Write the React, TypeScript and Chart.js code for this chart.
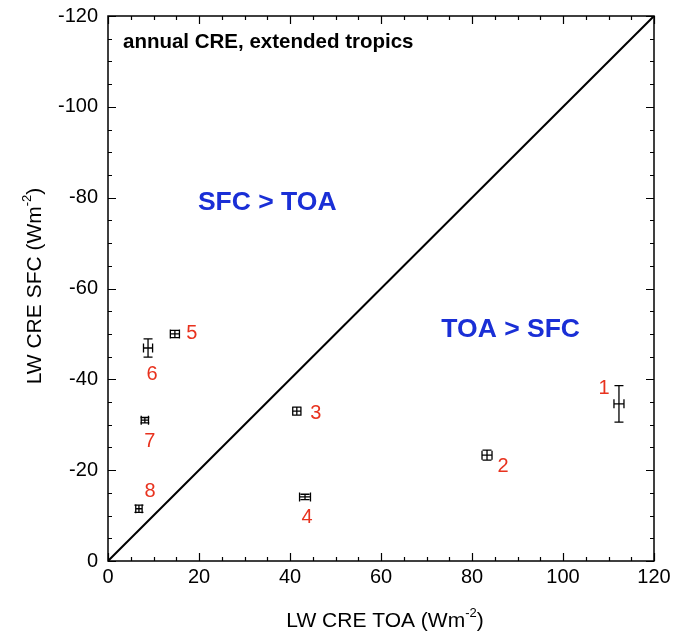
import React, { useEffect, useRef } from "react";
import { Chart, registerables } from "chart.js";
Chart.register(...registerables);

const pointIds = ["1", "2", "3", "4", "5", "6", "7", "8"];
const toaValues = [112.3, 83.3, 41.5, 43.3, 14.7, 8.8, 8.1, 6.8];
const sfcValues = [-34.6, -23.3, -33.0, -14.1, -50.0, -46.9, -31.0, -11.5];
const toaErrors = [1.1, 1.1, 0.9, 1.2, 1.0, 1.0, 0.8, 0.7];
const sfcErrors = [4.0, 1.1, 0.9, 0.6, 0.8, 2.0, 0.6, 0.8];
const diagonalLine = [
  { x: 0, y: 0 },
  { x: 120, y: -120 },
];
const labelOffsets = [
  [-15, -15],
  [16, 11],
  [19, 2],
  [2, 21],
  [17, 0],
  [4, 26],
  [5, 21],
  [11, -17],
];

const FONT = "'Liberation Sans', Arial, Helvetica, sans-serif";
const RED = "#e8321e";
const BLUE = "#1a2fd6";

const decorPlugin = {
  id: "decor",
  afterDatasetsDraw(chart: any) {
    const ctx = chart.ctx;
    const xs = chart.scales.x;
    const ys = chart.scales.y;
    const ca = chart.chartArea;
    ctx.save();
    // frame
    ctx.strokeStyle = "#000";
    ctx.lineWidth = 1.5;
    ctx.strokeRect(ca.left, ca.top, ca.right - ca.left, ca.bottom - ca.top);
    // ticks inward, all four sides
    ctx.lineWidth = 1.2;
    for (let v = 0; v <= 120; v += 5) {
      const len = v % 20 === 0 ? 8 : 4;
      const px = Math.round(xs.getPixelForValue(v)) + 0.5;
      ctx.beginPath();
      ctx.moveTo(px, ca.bottom);
      ctx.lineTo(px, ca.bottom - len);
      ctx.moveTo(px, ca.top);
      ctx.lineTo(px, ca.top + len);
      ctx.stroke();
      const py = Math.round(ys.getPixelForValue(-v)) + 0.5;
      ctx.beginPath();
      ctx.moveTo(ca.left, py);
      ctx.lineTo(ca.left + len, py);
      ctx.moveTo(ca.right, py);
      ctx.lineTo(ca.right - len, py);
      ctx.stroke();
    }
    // error bars
    ctx.lineWidth = 1.3;
    const cap = 4.5;
    for (let i = 0; i < toaValues.length; i++) {
      const cx = xs.getPixelForValue(toaValues[i]);
      const cy = ys.getPixelForValue(sfcValues[i]);
      const x0 = xs.getPixelForValue(toaValues[i] - toaErrors[i]);
      const x1 = xs.getPixelForValue(toaValues[i] + toaErrors[i]);
      const y0 = ys.getPixelForValue(sfcValues[i] - sfcErrors[i]);
      const y1 = ys.getPixelForValue(sfcValues[i] + sfcErrors[i]);
      ctx.beginPath();
      ctx.moveTo(x0, cy);
      ctx.lineTo(x1, cy);
      ctx.moveTo(x0, cy - cap);
      ctx.lineTo(x0, cy + cap);
      ctx.moveTo(x1, cy - cap);
      ctx.lineTo(x1, cy + cap);
      ctx.moveTo(cx, y0);
      ctx.lineTo(cx, y1);
      ctx.moveTo(cx - cap, y0);
      ctx.lineTo(cx + cap, y0);
      ctx.moveTo(cx - cap, y1);
      ctx.lineTo(cx + cap, y1);
      ctx.stroke();
      // label
      ctx.fillStyle = RED;
      ctx.font = `20px ${FONT}`;
      ctx.textAlign = "center";
      ctx.textBaseline = "middle";
      ctx.fillText(pointIds[i], cx + labelOffsets[i][0], cy + labelOffsets[i][1]);
    }
    // annotations
    ctx.fillStyle = "#000";
    ctx.font = `bold 20.5px ${FONT}`;
    ctx.textAlign = "left";
    ctx.textBaseline = "middle";
    ctx.fillText("annual CRE, extended tropics", ca.left + 15, ca.top + 26);
    ctx.fillStyle = BLUE;
    ctx.font = `bold 26.5px ${FONT}`;
    ctx.textAlign = "center";
    ctx.fillText("SFC > TOA", xs.getPixelForValue(35), ys.getPixelForValue(-79));
    ctx.fillText("TOA > SFC", xs.getPixelForValue(88.5), ys.getPixelForValue(-51));

    // axis titles with superscripts
    const drawTitle = (main: string, sup: string, tail: string, x: number, y: number, rot: number) => {
      ctx.save();
      ctx.translate(x, y);
      ctx.rotate(rot);
      ctx.fillStyle = "#000";
      ctx.textBaseline = "alphabetic";
      ctx.textAlign = "left";
      const f1 = `21px ${FONT}`;
      const f2 = `13px ${FONT}`;
      ctx.font = f1;
      const w1 = ctx.measureText(main).width;
      const w3 = ctx.measureText(tail).width;
      ctx.font = f2;
      const w2 = ctx.measureText(sup).width;
      const total = w1 + w2 + w3;
      let cx = -total / 2;
      ctx.font = f1;
      ctx.fillText(main, cx, 7);
      cx += w1;
      ctx.font = f2;
      ctx.fillText(sup, cx, -3);
      cx += w2;
      ctx.font = f1;
      ctx.fillText(tail, cx, 7);
      ctx.restore();
    };
    drawTitle("LW CRE TOA (Wm", "-2", ")", 385, 620, 0);
    drawTitle("LW CRE SFC (Wm", "-2", ")", 34, 286, -Math.PI / 2);
    ctx.restore();
  },
};

export default function App() {
  const ref = useRef<HTMLCanvasElement>(null);
  useEffect(() => {
    if (!ref.current) return;
    const chart = new Chart(ref.current, {
      type: "scatter",
      data: {
        datasets: [
          {
            type: "line",
            data: diagonalLine,
            borderColor: "#000",
            borderWidth: 2,
            pointRadius: 0,
            fill: false,
          } as any,
          {
            data: toaValues.map((x, i) => ({ x, y: sfcValues[i] })),
            pointRadius: 0,
            backgroundColor: "#000",
          },
        ],
      },
      options: {
        animation: false,
        responsive: false,
        maintainAspectRatio: false,
        layout: { padding: { left: 0, right: 43, top: 16, bottom: 0 } },
        plugins: { legend: { display: false }, tooltip: { enabled: false } },
        scales: {
          x: {
            type: "linear",
            min: 0,
            max: 120,
            ticks: { stepSize: 20, color: "#000", font: { family: FONT, size: 20 }, padding: 4 },
            grid: { display: true, drawOnChartArea: false, drawTicks: false, color: "transparent" },
            border: { display: false },
            afterFit: (s: any) => {
              s.height = 72;
              s.paddingLeft = 0;
              s.paddingRight = 0;
            },
          },
          y: {
            type: "linear",
            min: -120,
            max: 0,
            reverse: true,
            ticks: { stepSize: 20, color: "#000", font: { family: FONT, size: 20 }, padding: 10 },
            grid: { display: true, drawOnChartArea: false, drawTicks: false, color: "transparent" },
            border: { display: false },
            afterFit: (s: any) => {
              s.width = 108;
              s.paddingTop = 0;
              s.paddingBottom = 0;
            },
          },
        },
      },
      plugins: [decorPlugin],
    });
    return () => chart.destroy();
  }, []);
  return (
    <div style={{ position: "fixed", left: 0, top: 0, width: 697, height: 633, background: "#fff" }}>
      <canvas ref={ref} width={697} height={633} />
    </div>
  );
}
